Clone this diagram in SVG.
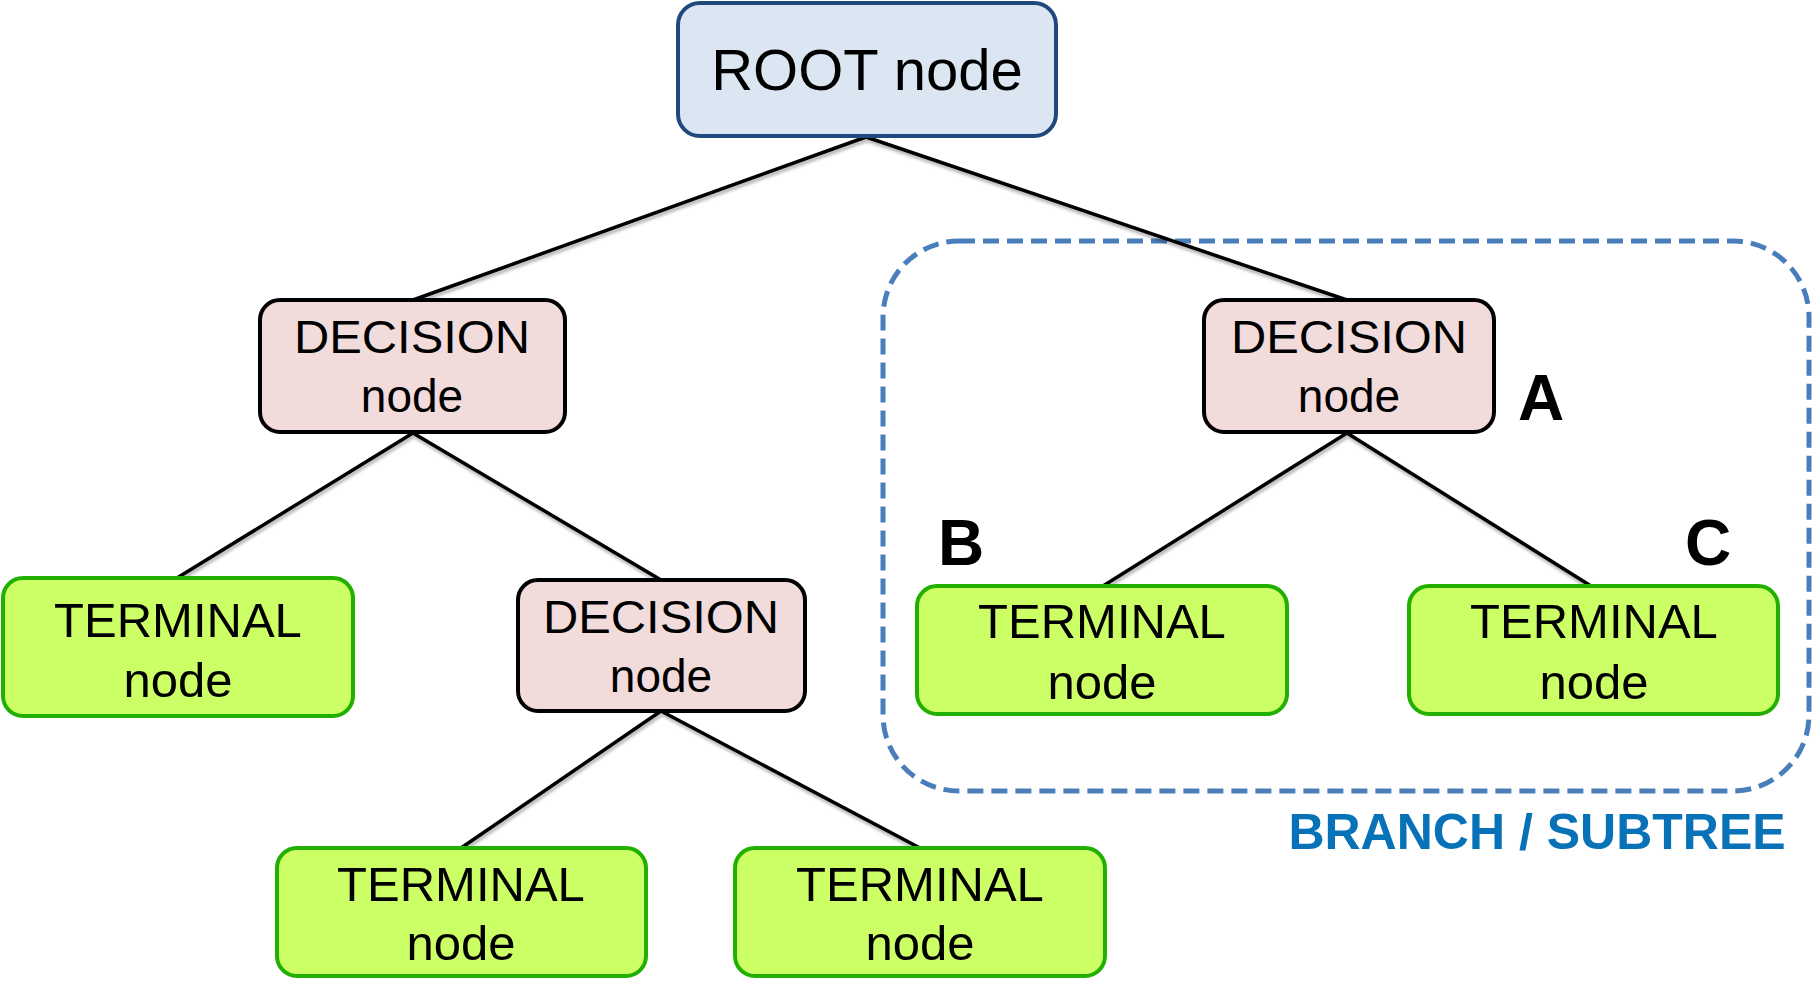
<svg xmlns="http://www.w3.org/2000/svg" width="1816" height="1003" viewBox="0 0 1816 1003">
<defs>
<filter id="sh" x="-10%" y="-10%" width="120%" height="130%">
<feDropShadow dx="1" dy="3" stdDeviation="1.5" flood-color="#000" flood-opacity="0.3"/>
</filter>
</defs>
<style>
text{font-family:"Liberation Sans",Arial,sans-serif;fill:#000;text-anchor:middle}
.root rect{fill:#dce6f2;stroke:#1f497d;stroke-width:4}
.dec rect{fill:#f2dcdb;stroke:#000;stroke-width:4}
.term rect{fill:#ccff66;stroke:#22b000;stroke-width:4}
.big{font-size:58px}
.lbl{font-size:46px}
.tl{font-size:49px}
.mark{font-size:64px;font-weight:bold}
#connectors line{stroke:#000;stroke-width:3.5}
</style>
<rect width="1816" height="1003" fill="#fff"/>
<g id="subtree">
<rect x="883" y="241" width="926" height="550" rx="76" ry="76" fill="none" stroke="#4a7ebb" stroke-width="5" stroke-dasharray="16 8"/>
<text x="1537" y="849" style="font-size:50px;font-weight:bold;fill:#0872b8">BRANCH / SUBTREE</text>
</g>
<g id="connectors" filter="url(#sh)">
<line x1="866" y1="137" x2="413" y2="300"/>
<line x1="866" y1="137" x2="1347" y2="300"/>
<line x1="413" y1="433" x2="177" y2="578"/>
<line x1="413" y1="433" x2="661" y2="580"/>
<line x1="661" y1="711" x2="461" y2="848"/>
<line x1="661" y1="711" x2="920" y2="848"/>
<line x1="1347" y1="433" x2="1103" y2="586"/>
<line x1="1347" y1="433" x2="1591" y2="586"/>
</g>
<g id="root" class="root">
<rect x="678" y="3" width="378" height="133" rx="22"/>
<text class="big" x="867" y="90">ROOT node</text>
</g>
<g id="decision1" class="dec">
<rect x="260" y="300" width="305" height="132" rx="20"/>
<text class="lbl" x="412" y="353" textLength="236" lengthAdjust="spacingAndGlyphs">DECISION</text>
<text class="lbl" x="412" y="412">node</text>
</g>
<g id="decision2" class="dec">
<rect x="1204" y="300" width="290" height="132" rx="20"/>
<text class="lbl" x="1349" y="353" textLength="236" lengthAdjust="spacingAndGlyphs">DECISION</text>
<text class="lbl" x="1349" y="412">node</text>
</g>
<g id="decision3" class="dec">
<rect x="518" y="580" width="287" height="131" rx="20"/>
<text class="lbl" x="661" y="633" textLength="236" lengthAdjust="spacingAndGlyphs">DECISION</text>
<text class="lbl" x="661" y="692">node</text>
</g>
<g id="terminal1" class="term">
<rect x="3" y="578" width="350" height="138" rx="20"/>
<text class="tl" x="178" y="637">TERMINAL</text>
<text class="tl" x="178" y="697">node</text>
</g>
<g id="terminal2" class="term">
<rect x="277" y="848" width="369" height="128" rx="20"/>
<text class="tl" x="461" y="901">TERMINAL</text>
<text class="tl" x="461" y="960">node</text>
</g>
<g id="terminal3" class="term">
<rect x="735" y="848" width="370" height="128" rx="20"/>
<text class="tl" x="920" y="901">TERMINAL</text>
<text class="tl" x="920" y="960">node</text>
</g>
<g id="terminalB" class="term">
<rect x="917" y="586" width="370" height="128" rx="20"/>
<text class="tl" x="1102" y="638">TERMINAL</text>
<text class="tl" x="1102" y="699">node</text>
</g>
<g id="terminalC" class="term">
<rect x="1409" y="586" width="369" height="128" rx="20"/>
<text class="tl" x="1594" y="638">TERMINAL</text>
<text class="tl" x="1594" y="699">node</text>
</g>
<g id="labels">
<text class="mark" x="1541" y="420">A</text>
<text class="mark" x="961" y="565">B</text>
<text class="mark" x="1708" y="565">C</text>
</g>
</svg>
